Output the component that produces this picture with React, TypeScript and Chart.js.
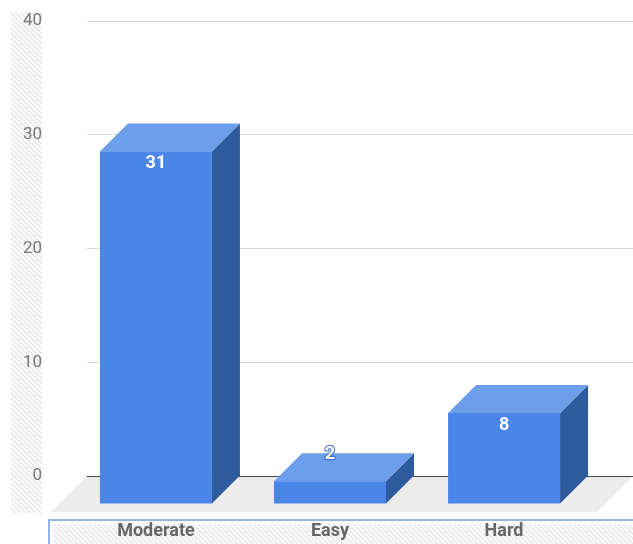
import React, { useEffect, useRef } from "react";
import { Chart, registerables } from "chart.js";

Chart.register(...registerables);

const categories = ["Moderate", "Easy", "Hard"];
const values = [31, 2, 8];
const positions = [0, 1, 2];
const yMin = 0;
const yMax = 40;
const yStep = 10;

const FRONT = "#4a86e8";
const TOP = "#6d9eeb";
const SIDE = "#2e5a9e";
const DEPTH = 28;
const FLOOR_DEPTH = 36;
const FONT = "Roboto, 'Noto Sans', sans-serif";

function hatch(ctx: CanvasRenderingContext2D, x: number, y: number, w: number, h: number) {
  ctx.save();
  ctx.beginPath();
  ctx.rect(x, y, w, h);
  ctx.clip();
  ctx.strokeStyle = "#e3e3e3";
  ctx.lineWidth = 1.4;
  ctx.beginPath();
  for (let k = -h; k < w + h; k += 5) {
    ctx.moveTo(x + k, y);
    ctx.lineTo(x + k + h, y + h);
  }
  ctx.stroke();
  ctx.restore();
}

const bars3d = {
  id: "bars3d",
  beforeDraw(chart: any) {
    const ctx = chart.ctx as CanvasRenderingContext2D;
    ctx.save();
    ctx.fillStyle = "#ffffff";
    ctx.fillRect(0, 0, chart.width, chart.height);
    hatch(ctx, 11, 12, 31, 501);
    hatch(ctx, 53, 524, chart.width - 53, chart.height - 524);
    ctx.strokeStyle = "#8fb4f2";
    ctx.lineWidth = 2;
    ctx.strokeRect(49, 520, chart.width, 60);
    ctx.restore();
  },
  beforeDatasetsDraw(chart: any) {
    const ctx = chart.ctx as CanvasRenderingContext2D;
    const area = chart.chartArea;
    const y0 = chart.scales.y.getPixelForValue(0);
    ctx.save();
    ctx.fillStyle = "#ececec";
    ctx.beginPath();
    ctx.moveTo(area.left, y0);
    ctx.lineTo(area.right, y0);
    ctx.lineTo(area.right - FLOOR_DEPTH, y0 + FLOOR_DEPTH);
    ctx.lineTo(area.left - FLOOR_DEPTH, y0 + FLOOR_DEPTH);
    ctx.closePath();
    ctx.fill();
    ctx.strokeStyle = "#444444";
    ctx.lineWidth = 1;
    ctx.beginPath();
    ctx.moveTo(area.left, Math.round(y0) + 0.5);
    ctx.lineTo(area.right, Math.round(y0) + 0.5);
    ctx.stroke();
    ctx.restore();
  },
  afterDatasetsDraw(chart: any) {
    const ctx = chart.ctx as CanvasRenderingContext2D;
    const meta = chart.getDatasetMeta(0);
    const D = DEPTH;
    ctx.save();
    meta.data.forEach((el: any, i: number) => {
      const { x, y, base, width } = el.getProps(["x", "y", "base", "width"], true);
      const fl = x - width / 2 - D;
      const fr = x + width / 2 - D;
      const ft = y + D;
      const fb = base + D;
      ctx.fillStyle = SIDE;
      ctx.beginPath();
      ctx.moveTo(fr, ft);
      ctx.lineTo(fr + D, ft - D);
      ctx.lineTo(fr + D, fb - D);
      ctx.lineTo(fr, fb);
      ctx.closePath();
      ctx.fill();
      ctx.fillStyle = TOP;
      ctx.beginPath();
      ctx.moveTo(fl, ft);
      ctx.lineTo(fr, ft);
      ctx.lineTo(fr + D, ft - D);
      ctx.lineTo(fl + D, ft - D);
      ctx.closePath();
      ctx.fill();
      ctx.fillStyle = FRONT;
      ctx.fillRect(fl, ft, fr - fl, fb - ft);

      const cx = (fl + fr) / 2;
      const inside = fb - ft > 30;
      const ly = inside ? ft + 12.5 : y + 1.5;
      ctx.font = `bold 18px ${FONT}`;
      ctx.textAlign = "center";
      ctx.textBaseline = "middle";
      const txt = String(values[i]);
      if (!inside) {
        ctx.strokeStyle = "rgba(50,100,190,0.8)";
        ctx.lineWidth = 2.5;
        ctx.lineJoin = "round";
        ctx.strokeText(txt, cx, ly);
      }
      ctx.fillStyle = "#ffffff";
      ctx.fillText(txt, cx, ly);

      ctx.font = `bold 18px ${FONT}`;
      ctx.fillStyle = "#666666";
      ctx.fillText(categories[i], cx, 531);
    });
    ctx.restore();
  },
};

export default function App() {
  const ref = useRef<HTMLCanvasElement | null>(null);

  useEffect(() => {
    if (!ref.current) return;
    const chart = new Chart(ref.current, {
      type: "bar",
      data: {
        datasets: [
          {
            label: "Count",
            data: positions.map((p, i) => ({ x: p, y: values[i] })),
            backgroundColor: "rgba(0,0,0,0)",
            borderWidth: 0,
            barThickness: 112,
          },
        ],
      },
      options: {
        responsive: false,
        animation: false,
        devicePixelRatio: 1,
        layout: { padding: { top: 21, bottom: 68, left: 0, right: 0 } },
        plugins: {
          legend: { display: false },
          tooltip: { enabled: false },
        },
        scales: {
          x: {
            type: "linear",
            min: -0.557,
            max: 2.58,
            display: false,
            offset: false,
          },
          y: {
            min: yMin,
            max: yMax,
            afterFit: (s: any) => {
              s.width = 87;
              s.paddingTop = 0;
              s.paddingBottom = 0;
            },
            border: { display: false },
            grid: {
              drawTicks: false,
              color: (c: any) => (c.tick && c.tick.value === 0 ? "rgba(0,0,0,0)" : "#d9d9d9"),
              lineWidth: 1,
            },
            ticks: {
              stepSize: yStep,
              padding: 45,
              color: "#777777",
              font: { family: FONT, size: 17 },
            },
          },
        },
      },
      plugins: [bars3d],
    });
    return () => chart.destroy();
  }, []);

  return (
    <div style={{ position: "fixed", left: 0, top: 0, width: 633, height: 544 }}>
      <canvas ref={ref} width={633} height={544} style={{ display: "block" }} />
    </div>
  );
}
